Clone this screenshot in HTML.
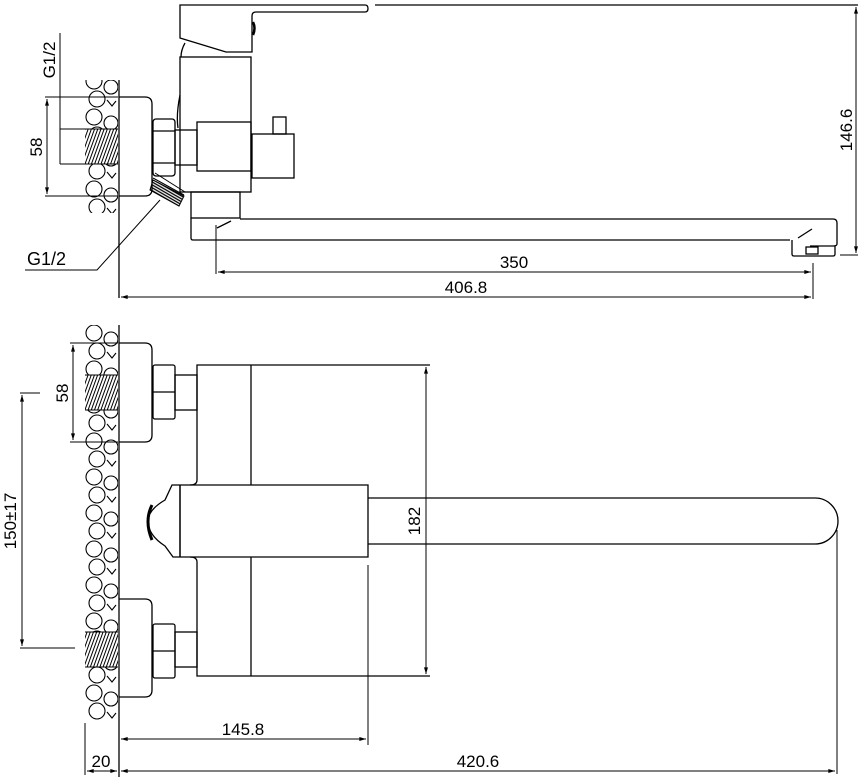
<!DOCTYPE html>
<html><head><meta charset="utf-8"><style>body{margin:0;background:#fff}svg{display:block}</style></head>
<body>
<svg width="861" height="777" viewBox="0 0 861 777" xmlns="http://www.w3.org/2000/svg" font-family="Liberation Sans, sans-serif" font-size="16" fill="none" stroke="#000" stroke-width="1.3">
<defs>
<pattern id="stone" width="34" height="36" patternUnits="userSpaceOnUse" x="85" y="0">
<circle cx="9" cy="9" r="8" stroke="#000" stroke-width="1.1" fill="none"/>
<circle cx="26" cy="15" r="7" stroke="#000" stroke-width="1.1" fill="none"/>
<circle cx="12" cy="27" r="8" stroke="#000" stroke-width="1.1" fill="none"/>
<path d="M22 28 l5 6 l4 -5" stroke="#000" stroke-width="1.1"/>
</pattern>
<pattern id="hatch" width="3" height="3" patternUnits="userSpaceOnUse" patternTransform="rotate(20)">
<line x1="1" y1="0" x2="1" y2="3" stroke="#000" stroke-width="1"/>
</pattern>
<pattern id="hatch2" width="2.5" height="2.5" patternUnits="userSpaceOnUse" patternTransform="rotate(-60)">
<line x1="1" y1="0" x2="1" y2="2.5" stroke="#000" stroke-width="1.3"/>
</pattern>
<marker id="a" viewBox="0 0 10 6" refX="10" refY="3" markerWidth="8" markerHeight="4" orient="auto-start-reverse"><path d="M0 0 L10 3 L0 6 Z" fill="#000" stroke="none"/></marker>
</defs>

<!-- ===== TOP VIEW ===== -->
<rect x="85" y="80" width="33" height="133" fill="url(#stone)" stroke="none"/>
<rect x="85" y="129" width="33" height="35" fill="#fff" stroke="none"/>
<rect x="85" y="129" width="33" height="35" fill="url(#hatch)" stroke="none"/>
<line x1="85" y1="129" x2="118" y2="129" stroke-width="1"/><line x1="85" y1="164" x2="118" y2="164" stroke-width="1"/>
<line x1="119" y1="80" x2="119" y2="298"/>
<path d="M119 97 H145 Q152 97 152 104 V189 Q152 196 145 196 H119"/>
<rect x="153" y="119" width="22" height="57" rx="3"/>
<line x1="153" y1="131" x2="175" y2="131"/><line x1="153" y1="163" x2="175" y2="163"/>
<rect x="175" y="130" width="22" height="35"/>
<rect x="180" y="57" width="71" height="135"/>
<rect x="197" y="122" width="54" height="49"/>
<rect x="252" y="134" width="42" height="44"/>
<rect x="273" y="117" width="13" height="17"/>
<path d="M180 5 H365 Q368 5 368 8.5 Q368 12 365 12 H256 Q252 12 252 16 V52 H226 L180 38 Z"/>
<path d="M253 22 Q256 28 253 35" stroke-width="2.5"/>
<path d="M185 43 Q181 50 181 57"/>
<path d="M180 95 Q176 115 178 128"/>
<line x1="375" y1="5" x2="858" y2="5"/>
<rect x="191" y="192" width="49" height="26"/>
<path d="M191 218 V238 Q191 240 193 240 H790"/>
<path d="M240 219 H833 Q837 219 837 223 V244 Q837 246 833 246 H810"/>
<path d="M217 228 L231 221"/>
<path d="M792 240 V254 Q792 256 794 256 H833 Q835 256 835 254 V246"/>
<rect x="806" y="247" width="12" height="7"/>
<path d="M798 238 L812 229"/>
<!-- angled thread -->
<path d="M155 173 L185 192 M153 178 L184 195" stroke-width="1"/>
<path d="M153 180 L184 196 L179 206 L150 190 Z" fill="url(#hatch2)" stroke-width="1"/>
<path d="M160 200 L97 270 H25" stroke-width="1"/>
<text x="27" y="265" stroke="none" fill="#000" font-size="18">G1/2</text>
<!-- dims top -->
<line x1="45" y1="97" x2="118" y2="97" stroke-width="1"/>
<line x1="45" y1="196" x2="118" y2="196" stroke-width="1"/>
<line x1="47" y1="99" x2="47" y2="194" stroke-width="1" marker-start="url(#a)" marker-end="url(#a)"/>
<text transform="translate(42 147) rotate(-90)" text-anchor="middle" stroke="none" fill="#000" font-size="17">58</text>
<line x1="60" y1="33" x2="60" y2="164" stroke-width="1"/>
<line x1="60" y1="129" x2="85" y2="129" stroke-width="1"/>
<line x1="60" y1="164" x2="85" y2="164" stroke-width="1"/>
<text transform="translate(55 60) rotate(-90)" text-anchor="middle" stroke="none" fill="#000" font-size="17">G1/2</text>
<line x1="216" y1="225" x2="216" y2="274" stroke-width="1"/>
<line x1="813" y1="263" x2="813" y2="299" stroke-width="1"/>
<line x1="218" y1="272" x2="811" y2="272" stroke-width="1" marker-start="url(#a)" marker-end="url(#a)"/>
<text x="514" y="268" text-anchor="middle" stroke="none" fill="#000" font-size="17">350</text>
<line x1="121" y1="297" x2="811" y2="297" stroke-width="1" marker-start="url(#a)" marker-end="url(#a)"/>
<text x="466" y="293" text-anchor="middle" stroke="none" fill="#000" font-size="17">406.8</text>
<line x1="840" y1="255" x2="858" y2="255" stroke-width="1"/>
<line x1="856" y1="7" x2="856" y2="253" stroke-width="1" marker-start="url(#a)" marker-end="url(#a)"/>
<text transform="translate(852 130) rotate(-90)" text-anchor="middle" stroke="none" fill="#000" font-size="17">146.6</text>

<!-- ===== BOTTOM VIEW ===== -->
<rect x="85" y="325" width="33" height="395" fill="url(#stone)" stroke="none"/>
<rect x="85" y="375" width="33" height="35" fill="#fff" stroke="none"/>
<rect x="85" y="375" width="33" height="35" fill="url(#hatch)" stroke="none"/>
<line x1="85" y1="375" x2="118" y2="375" stroke-width="1"/><line x1="85" y1="410" x2="118" y2="410" stroke-width="1"/>
<rect x="85" y="632" width="33" height="35" fill="#fff" stroke="none"/>
<rect x="85" y="632" width="33" height="35" fill="url(#hatch)" stroke="none"/>
<line x1="85" y1="632" x2="118" y2="632" stroke-width="1"/><line x1="85" y1="667" x2="118" y2="667" stroke-width="1"/>
<line x1="119" y1="325" x2="119" y2="777"/>
<path d="M119 343 H145 Q152 343 152 350 V435 Q152 442 145 442 H119"/>
<path d="M119 599 H145 Q152 599 152 606 V690 Q152 697 145 697 H119"/>
<rect x="153" y="365" width="22" height="54" rx="2"/><line x1="153" y1="392" x2="175" y2="392"/>
<rect x="153" y="624" width="22" height="54" rx="2"/><line x1="153" y1="651" x2="175" y2="651"/>
<rect x="175" y="375" width="22" height="35"/>
<rect x="175" y="632" width="22" height="35"/>
<path d="M197 480 V365 H430"/>
<path d="M197 562 V676 H430"/>
<line x1="251" y1="365" x2="251" y2="485"/><line x1="251" y1="557" x2="251" y2="676"/>
<path d="M197 480 Q197 485 190 485 M197 562 Q197 557 190 557"/>
<path d="M180 485 H368 V557 H180 Z M180 485 H172 L165 500 Q148 510 148 521 Q148 535 165 546 L173 557 H180"/>
<line x1="180" y1="485" x2="180" y2="557"/>
<path d="M152 505 Q144 521 152 540" stroke-width="3"/>
<path d="M368 498 H815 A23 23 0 0 1 815 544 H368"/>
<!-- dims bottom -->
<line x1="426" y1="367" x2="426" y2="674" stroke-width="1" marker-start="url(#a)" marker-end="url(#a)"/>
<text transform="translate(420 521) rotate(-90)" text-anchor="middle" stroke="none" fill="#000" font-size="17">182</text>
<line x1="70" y1="343" x2="118" y2="343" stroke-width="1"/>
<line x1="70" y1="442" x2="118" y2="442" stroke-width="1"/>
<line x1="73" y1="345" x2="73" y2="440" stroke-width="1" marker-start="url(#a)" marker-end="url(#a)"/>
<text transform="translate(68 393) rotate(-90)" text-anchor="middle" stroke="none" fill="#000" font-size="17">58</text>
<line x1="20" y1="393" x2="40" y2="393" stroke-width="1"/>
<line x1="20" y1="648" x2="75" y2="648" stroke-width="1"/>
<line x1="22" y1="395" x2="22" y2="646" stroke-width="1" marker-start="url(#a)" marker-end="url(#a)"/>
<text transform="translate(16 521) rotate(-90)" text-anchor="middle" stroke="none" fill="#000" font-size="17">150±17</text>
<line x1="368" y1="565" x2="368" y2="745" stroke-width="1"/>
<line x1="121" y1="739" x2="366" y2="739" stroke-width="1" marker-start="url(#a)" marker-end="url(#a)"/>
<text x="243" y="735" text-anchor="middle" stroke="none" fill="#000" font-size="17">145.8</text>
<line x1="837" y1="530" x2="837" y2="774" stroke-width="1"/>
<line x1="85" y1="723" x2="85" y2="775" stroke-width="1"/>
<line x1="87" y1="771" x2="117" y2="771" stroke-width="1" marker-start="url(#a)" marker-end="url(#a)"/>
<text x="101" y="767" text-anchor="middle" stroke="none" fill="#000" font-size="17">20</text>
<line x1="121" y1="771" x2="835" y2="771" stroke-width="1" marker-start="url(#a)" marker-end="url(#a)"/>
<text x="478" y="767" text-anchor="middle" stroke="none" fill="#000" font-size="17">420.6</text>
</svg>
</body></html>
